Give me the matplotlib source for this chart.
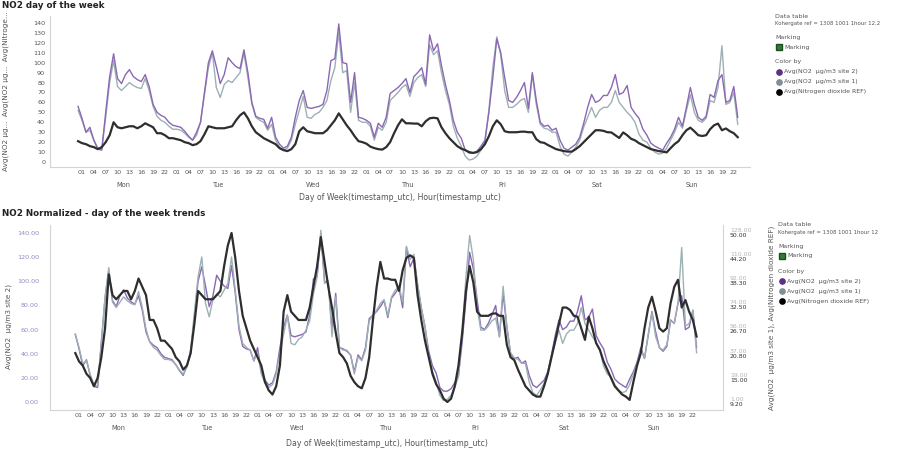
import matplotlib
matplotlib.use("Agg")
import matplotlib.pyplot as plt
from matplotlib.lines import Line2D

# ---------------- data (hourly averages, Mon..Sun, hours 0..23) ----------------
days = ["Mon", "Tue", "Wed", "Thu", "Fri", "Sat", "Sun"]
hour_ticks = [1, 4, 7, 10, 13, 16, 19, 22]
hour_tick_labels = ["01", "04", "07", "10", "13", "16", "19", "22"]

site2_purple = [
    56, 44, 30, 35, 22, 13, 12, 50, 86, 109, 84, 79, 88, 93, 86, 83, 81, 88, 76, 58, 50, 47, 45, 40,
    37, 36, 35, 31, 26, 22, 30, 40, 70, 100, 112, 96, 79, 88, 105, 100, 96, 94, 113, 90, 60, 46, 44, 43,
    34, 45, 25, 18, 14, 16, 25, 45, 62, 72, 55, 54, 55, 56, 58, 72, 102, 104, 139, 100, 99, 60, 90, 45,
    44, 42, 39, 25, 39, 35, 45, 69, 72, 75, 79, 84, 70, 86, 90, 95, 78, 128, 112, 119, 97, 78, 62, 42,
    30, 24, 12, 9, 9, 11, 16, 22, 50, 85, 124, 110, 85, 62, 60, 65, 72, 80, 54, 90, 62, 40, 36, 37,
    32, 34, 22, 14, 12, 15, 18, 25, 39, 55, 68, 60, 62, 67, 67, 75, 88, 68, 70, 77, 55, 49, 44, 33,
    27, 19, 16, 14, 12, 19, 25, 33, 45, 36, 55, 75, 58, 45, 42, 46, 68, 65, 82, 88, 60, 62, 76, 45,
]
site1_grey = [
    52, 42, 30, 32, 22, 14, 13, 45, 80, 102, 76, 72, 76, 80, 77, 75, 74, 84, 72, 56, 46, 42, 40, 36,
    33, 33, 32, 29, 25, 22, 27, 40, 68, 95, 110, 75, 65, 78, 82, 80, 85, 90, 110, 85, 58, 45, 42, 40,
    32, 38, 22, 15, 12, 14, 22, 38, 52, 66, 45, 44, 48, 50, 55, 62, 82, 95, 130, 90, 92, 50, 80, 42,
    40, 40, 36, 22, 35, 32, 40, 62, 66, 70, 75, 78, 66, 80, 85, 88, 76, 118, 108, 112, 90, 72, 58, 36,
    24, 16, 6, 2, 3, 6, 12, 20, 52, 95, 126, 108, 72, 55, 55, 58, 62, 64, 50, 88, 58, 38, 34, 33,
    30, 30, 16, 8, 6, 10, 15, 22, 35, 45, 55, 45, 52, 55, 55, 60, 72, 60, 55, 50, 46, 40, 28, 22,
    20, 14, 10, 8, 9, 14, 22, 30, 40, 34, 52, 68, 50, 42, 40, 44, 62, 60, 75, 117, 58, 60, 70, 38,
]
ref_black = [
    21, 19, 18, 16, 15, 13, 15, 20, 27, 40, 35, 34, 35, 36, 36, 34, 36, 39, 37, 35, 29, 29, 27, 24,
    24, 23, 22, 20, 19, 17, 18, 21, 28, 36, 35, 34, 34, 34, 35, 36, 42, 47, 50, 44, 36, 30, 27, 24,
    22, 20, 18, 14, 12, 11, 13, 18, 31, 35, 31, 30, 29, 29, 29, 32, 37, 42, 49, 43, 37, 32, 26, 21,
    20, 18.5, 15.5, 14, 13, 12.5, 15, 20, 29, 37, 43, 39, 39, 38.7, 38.7, 36, 41, 44, 44.6, 44, 35, 29, 24, 20,
    16, 13.5, 12, 10, 9.2, 10, 13, 18, 26, 36, 42, 38, 31, 30, 30, 30, 30.5, 30.6, 30, 30, 23, 20, 19.3, 17,
    15, 13, 12, 11, 10.5, 10.5, 13, 16, 20, 24, 28, 32, 32, 31.4, 30, 29.8, 27, 24.2, 29.8, 27, 23.4, 21.8, 19, 17,
    15, 13, 12, 11, 10.5, 9.7, 14, 18, 21, 27, 32, 34.6, 31, 27, 26.2, 27, 33, 37, 38.7, 32, 33.8, 31, 29, 25,
]

top_yticks = [0, 10, 20, 30, 40, 50, 60, 70, 80, 90, 100, 110, 120, 130, 140]
left_norm_ticks = ["0.00", "20.00", "40.00", "60.00", "80.00", "100.00", "120.00", "140.00"]
grey_norm_ticks = ["1.00", "19.00", "37.00", "56.00", "74.00", "92.00", "110.00", "128.00"]
black_norm_ticks = ["9.20", "15.00", "20.80", "26.70", "32.50", "38.30", "44.20", "50.00"]

series_names = ["Avg(NO2  µg/m3 site 2)", "Avg(NO2  µg/m3 site 1)", "Avg(Nitrogen dioxide REF)"]

# ---------------- style ----------------
C_PURPLE = "#8a68b3"
C_GREY = "#9db0b4"
C_BLACK = "#2e2e2e"
C_SPINE = "#d4d4d4"
C_TXT = "#555555"

W, H = 897, 455
fig = plt.figure(figsize=(W / 100, H / 100), dpi=100)


def px_axes(left, top, right, bottom):
    return fig.add_axes([left / W, 1 - bottom / H, (right - left) / W, (bottom - top) / H])


x = list(range(len(site2_purple)))
tick_pos = [d * 24 + h for d in range(len(days)) for h in hour_ticks]
tick_lab = [hour_tick_labels[i % len(hour_ticks)] for i in range(len(tick_pos))]


def style_xaxis(ax, day_offset_pt, xlabel_offset_pt):
    ax.set_xticks(tick_pos)
    ax.set_xticklabels(tick_lab)
    ax.tick_params(axis="x", length=0, pad=2.5, labelsize=4.6, labelcolor=C_TXT)
    for d, name in enumerate(days):
        ax.annotate(name, xy=(d * 24 + 11.5, 0), xycoords=("data", "axes fraction"),
                    xytext=(0, -day_offset_pt), textcoords="offset points",
                    ha="center", va="center", fontsize=4.8, color=C_TXT)
    ax.annotate("Day of Week(timestamp_utc), Hour(timestamp_utc)", xy=(0.5, 0),
                xycoords="axes fraction", xytext=(0, -xlabel_offset_pt),
                textcoords="offset points", ha="center", va="center",
                fontsize=5.6, color=C_TXT)


# ---------------- top panel ----------------
ax1 = px_axes(50, 16, 750, 167)
ax1.plot(x, site1_grey, color=C_GREY, lw=1.0, zorder=2)
ax1.plot(x, site2_purple, color=C_PURPLE, lw=1.0, zorder=3)
ax1.plot(x, ref_black, color=C_BLACK, lw=1.6, zorder=4)
ax1.set_xlim(-7.1, 170.1)
ax1.set_ylim(-5.0, 147.0)
ax1.set_yticks(top_yticks)
ax1.set_yticklabels([str(v) for v in top_yticks])
ax1.tick_params(axis="y", length=0, pad=3.5, labelsize=4.6, labelcolor=C_TXT)
for s in ["top", "right"]:
    ax1.spines[s].set_visible(False)
for s in ["left", "bottom"]:
    ax1.spines[s].set_color(C_SPINE)
    ax1.spines[s].set_linewidth(0.8)
style_xaxis(ax1, 13, 22)
ax1.set_ylabel("Avg(NO2 µg...  Avg(NO2 µg...  Avg(Nitroge...", fontsize=5.2, color=C_TXT)
ax1.yaxis.set_label_coords(-0.058, 0.5)
fig.text(2 / W, 1 - 5 / H, "NO2 day of the week", fontsize=6.3, fontweight="bold",
         color="#222222", ha="left", va="center")

# ---------------- bottom panel (normalized, three scales) ----------------
ax2 = px_axes(50, 225, 723, 410)
lo, hi = -6.63, 146.6
ax2.set_xlim(-6.8, 174.1)
ax2.set_ylim(lo, hi)
left_vals = [float(s) for s in left_norm_ticks]
ax2.set_yticks(left_vals)
ax2.set_yticklabels(left_norm_ticks)
ax2.tick_params(axis="y", length=0, pad=8, labelsize=4.6, labelcolor="#9a86c2")
ax2.plot(x, site2_purple, color=C_PURPLE, lw=1.0)
for s in ["top", "right"]:
    ax2.spines[s].set_visible(False)
for s in ["left", "bottom"]:
    ax2.spines[s].set_color(C_SPINE)
    ax2.spines[s].set_linewidth(0.8)
style_xaxis(ax2, 13, 24)
ax2.set_ylabel("Avg(NO2  µg/m3 site 2)", fontsize=5.2, color=C_TXT)
ax2.yaxis.set_label_coords(-0.056, 0.45)

g0, g1 = float(grey_norm_ticks[0]), float(grey_norm_ticks[-1])
b0, b1 = float(black_norm_ticks[0]), float(black_norm_ticks[-1])
l0, l1 = left_vals[0], left_vals[-1]

axg = ax2.twinx()
axg.set_ylim(g0 + (lo - l0) * (g1 - g0) / (l1 - l0), g0 + (hi - l0) * (g1 - g0) / (l1 - l0))
axg.plot(x, site1_grey, color=C_GREY, lw=1.0)
axg.set_yticks([float(s) for s in grey_norm_ticks])
axg.set_yticklabels(grey_norm_ticks)
axg.tick_params(axis="y", length=0, pad=5, labelsize=4.4, labelcolor="#b3b3b3")
for lbl in axg.get_yticklabels():
    lbl.set_verticalalignment("bottom")
for s in ["top", "left", "bottom"]:
    axg.spines[s].set_visible(False)
axg.spines["right"].set_color(C_SPINE)
axg.spines["right"].set_linewidth(0.8)

axb = ax2.twinx()
axb.set_ylim(b0 + (lo - l0) * (b1 - b0) / (l1 - l0), b0 + (hi - l0) * (b1 - b0) / (l1 - l0))
axb.plot(x, ref_black, color=C_BLACK, lw=1.6)
axb.set_yticks([float(s) for s in black_norm_ticks])
axb.set_yticklabels(black_norm_ticks)
axb.tick_params(axis="y", length=0, pad=5, labelsize=4.4, labelcolor="#333333")
for lbl in axb.get_yticklabels():
    lbl.set_verticalalignment("top")
for s in ["top", "left", "bottom", "right"]:
    axb.spines[s].set_visible(False)
axb.set_ylabel("Avg(NO2  µg/m3 site 1), Avg(Nitrogen dioxide REF)", fontsize=5.2, color=C_TXT)
axb.yaxis.set_label_coords(1.067, 0.5)

fig.text(2 / W, 1 - 213 / H, "NO2 Normalized - day of the week trends", fontsize=6.3,
         fontweight="bold", color="#222222", ha="left", va="center")


# ---------------- legends ----------------
def legend(x0, y0, ref_text):
    fs = 4.5
    fig.text(x0 / W, 1 - y0 / H, "Data table", fontsize=fs, color=C_TXT, va="center")
    fig.text(x0 / W, 1 - (y0 + 8) / H, ref_text, fontsize=3.9, color=C_TXT, va="center")
    fig.text(x0 / W, 1 - (y0 + 22) / H, "Marking", fontsize=fs, color=C_TXT, va="center")
    fig.add_artist(Line2D([(x0 + 4) / W], [1 - (y0 + 31) / H], marker="s", markersize=4.5,
                          color="#2f7d32", markeredgecolor="#1b4d1e", transform=fig.transFigure))
    fig.text((x0 + 9) / W, 1 - (y0 + 31) / H, "Marking", fontsize=fs, color=C_TXT, va="center")
    fig.text(x0 / W, 1 - (y0 + 46) / H, "Color by", fontsize=fs, color=C_TXT, va="center")
    for i, (name, col) in enumerate(zip(series_names, ["#5e2f86", "#7f8f93", "#000000"])):
        yy = y0 + 56 + 10 * i
        fig.add_artist(Line2D([(x0 + 4) / W], [1 - yy / H], marker="o", markersize=3.8,
                              color=col, transform=fig.transFigure))
        fig.text((x0 + 9) / W, 1 - yy / H, name, fontsize=fs, color=C_TXT, va="center")


legend(775, 16, "Kohergate ref = 1308 1001 1hour 12.2")
legend(778, 225, "Kohergate ref = 1308 1001 1hour 12")

fig.savefig("out.png", dpi=100)
